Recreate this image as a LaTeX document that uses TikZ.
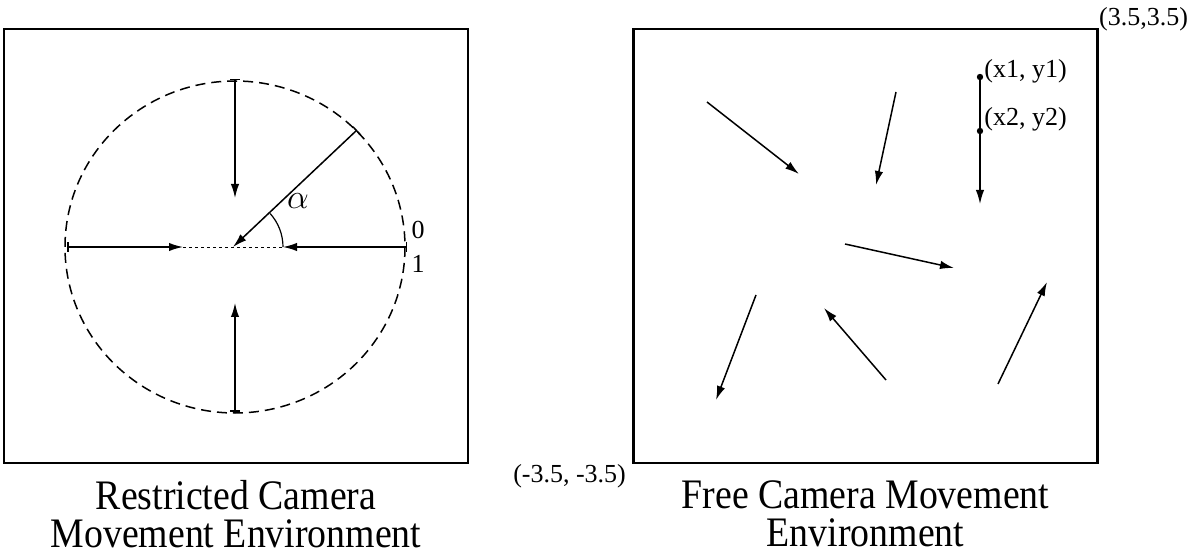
\documentclass[tikz,border=0pt]{standalone}
\usepackage{fontspec}
\setmainfont{Liberation Serif}
\newfontfamily\capfont[FakeStretch=0.9]{Liberation Serif}
\usetikzlibrary{arrows.meta,positioning}
\tikzset{
  panel/.style={draw, line width=1.2pt, minimum width=232pt, minimum height=217pt,
                inner sep=0pt},
  envcap/.style={align=center, font=\capfont\fontsize{21}{19}\selectfont, inner sep=0pt},
  coordlbl/.style={font=\fontsize{13}{15}\selectfont, inner sep=1pt},
  mv/.style={-{Latex[length=7pt,width=4.2pt]}, line width=0.75pt},
  radial/.style={{Bar[width=5pt]}-{Latex[length=7pt,width=4.2pt]}, line width=0.75pt},
  rim/.style={dash pattern=on 5pt off 3pt, line width=0.75pt},
  axisln/.style={line width=0.45pt, dash pattern=on 1.5pt off 1.5pt},
  dotpt/.style={circle, fill, inner sep=0pt, minimum size=3.2pt},
}
\begin{document}
\begin{tikzpicture}[x=0.5pt, y=-0.5pt]
  \useasboundingbox (0,0) rectangle (1191,556);

  % the two panels
  \node[panel] (restr) at (236,246) {};
  \node[panel] (free) at (865.5,246) {};
  \node[envcap, below=8pt of restr] (restrcap) {Restricted Camera\\Movement Environment};
  \node[envcap, below=8pt of free] (freecap) {Free Camera Movement\\Environment};

  % restricted: camera moves on the circle towards the centre
  \coordinate (o) at (233,247);
  \draw[rim] (235,247) ellipse [x radius=170, y radius=166];
  \draw[axisln] (183,247) -- (283,247);
  \draw[radial] (235,79) -- (235,198);
  \draw[radial] (235,412) -- (235,303);
  \draw[radial] (67,247) -- (183,247);
  \draw[radial] (407,247) -- (283,247);
  \draw[radial] (357,130) -- (o);
  \draw[line width=0.6pt] (283,247) arc[start angle=0, end angle=-42, radius=50];
  \node[coordlbl, font=\fontsize{17}{19}\selectfont] (alpha) at (298,201) {$\alpha$};
  \node[coordlbl] (zero) at (418,230) {0};
  \node[coordlbl] (one) at (418,264) {1};

  % free: any start, any direction
  \draw[mv] (707,102) -- (799,174);
  \draw[mv] (896,92) -- (876,185);
  \draw[mv] (845,244) -- (954,268);
  \draw[mv] (756,295) -- (716,400);
  \draw[mv] (886,380) -- (824,308);
  \draw[mv] (998,384) -- (1047,282);
  \node[dotpt] (p1) at (980,77) {};
  \node[dotpt] (p2) at (980,131) {};
  \coordinate (p3) at (980,204);
  \draw[mv] (p1.center) -- (p3);
  \node[coordlbl, anchor=west] (p1lbl) at (982,71) {(x1, y1)};
  \node[coordlbl, anchor=west] (p2lbl) at (982,119) {(x2, y2)};

  \node[coordlbl, anchor=south west, inner sep=0pt, yshift=-2pt] (ne) at (free.north east) {(3.5,3.5)};
  \node[coordlbl, anchor=north east, inner sep=0pt, xshift=-3pt] (sw) at (free.south west) {(-3.5, -3.5)};
\end{tikzpicture}
\end{document}
